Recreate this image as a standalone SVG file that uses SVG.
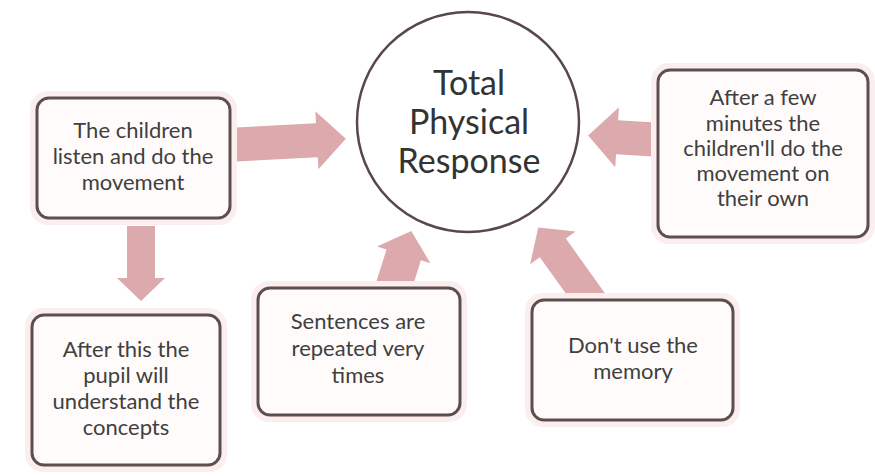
<svg xmlns="http://www.w3.org/2000/svg" width="875" height="476" viewBox="0 0 875 476">
<style>
.bg{fill:#ffffff}
.box{fill:#fffbfb;stroke:#5e4e4e;stroke-width:3}
.glow{fill:none;stroke:#fbeeee;stroke-width:6}
.arrow{fill:#dcaaad}
.t{font-family:Lato,"Open Sans","Liberation Sans",sans-serif;font-size:22px;fill:#404040;text-anchor:middle}
.big{font-size:34px;fill:#333333}
</style>
<rect class="bg" x="0" y="0" width="875" height="476"/>
<g id="connectors">
  <polygon class="arrow" transform="translate(226,145) rotate(-3)" points="0,-17 91,-17 91,-29 120,0 91,29 91,17 0,17"/>
  <polygon class="arrow" transform="translate(662,140) rotate(-176.5)" points="0,-17 45,-17 45,-30 74,0 45,30 45,17 0,17"/>
  <polygon class="arrow" transform="translate(141,226) rotate(90)" points="0,-14 52,-14 52,-24 75,0 52,24 52,14 0,14"/>
  <polygon class="arrow" transform="translate(392,292) rotate(-72.5)" points="0,-18 39,-18 39,-28 64,0 39,28 39,18 0,18"/>
  <polygon class="arrow" transform="translate(593,304) rotate(-125.6)" points="0,-16 69,-16 69,-28 94,0 69,28 69,16 0,16"/>
</g>
<g id="center">
  <ellipse cx="468" cy="122" rx="111" ry="110" fill="#ffffff" stroke="#5a4848" stroke-width="2.5"/>
  <text class="t big" x="469" y="95">Total</text>
  <text class="t big" x="469" y="134">Physical</text>
  <text class="t big" x="469" y="173">Response</text>
</g>
<g id="node-listen">
  <rect class="glow" x="33" y="94" width="201" height="128" rx="15"/>
  <rect class="box" x="37" y="98" width="193" height="120" rx="12"/>
  <text class="t" x="133" y="138">The children</text>
  <text class="t" x="133" y="164">listen and do the</text>
  <text class="t" x="133" y="190">movement</text>
</g>
<g id="node-own">
  <rect class="glow" x="654" y="66" width="218" height="175" rx="15"/>
  <rect class="box" x="658" y="70" width="210" height="167" rx="12"/>
  <text class="t" x="763" y="105">After a few</text>
  <text class="t" x="763" y="131">minutes the</text>
  <text class="t" x="763" y="156">children'll do the</text>
  <text class="t" x="763" y="181">movement on</text>
  <text class="t" x="763" y="206">their own</text>
</g>
<g id="node-understand">
  <rect class="glow" x="28" y="311" width="196" height="158" rx="15"/>
  <rect class="box" x="32" y="315" width="188" height="150" rx="12"/>
  <text class="t" x="126" y="357">After this the</text>
  <text class="t" x="126" y="383">pupil will</text>
  <text class="t" x="126" y="409">understand the</text>
  <text class="t" x="126" y="435">concepts</text>
</g>
<g id="node-repeated">
  <rect class="glow" x="254" y="284" width="210" height="135" rx="15"/>
  <rect class="box" x="258" y="288" width="202" height="127" rx="12"/>
  <text class="t" x="358" y="329">Sentences are</text>
  <text class="t" x="358" y="356">repeated very</text>
  <text class="t" x="358" y="383">times</text>
</g>
<g id="node-memory">
  <rect class="glow" x="528" y="296" width="209" height="128" rx="15"/>
  <rect class="box" x="532" y="300" width="201" height="120" rx="12"/>
  <text class="t" x="633" y="353">Don't use the</text>
  <text class="t" x="633" y="379">memory</text>
</g>
</svg>
